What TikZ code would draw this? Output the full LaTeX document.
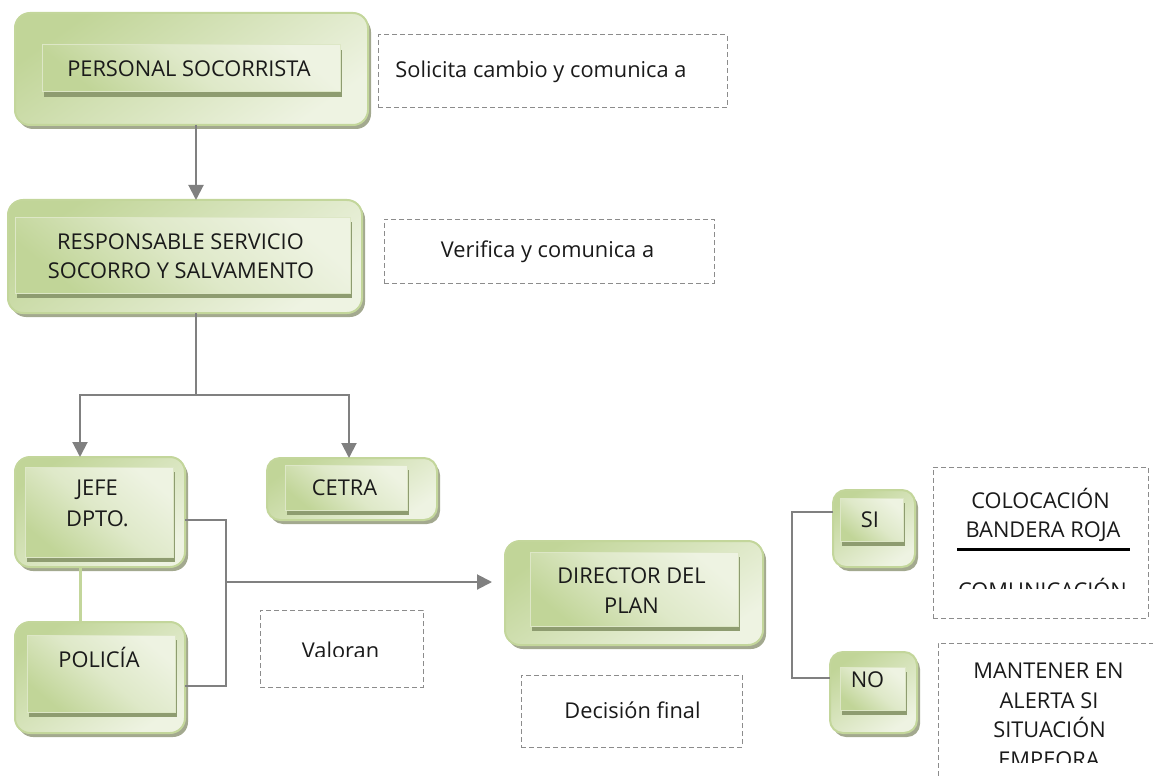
\documentclass[tikz,border=0pt]{standalone}
\usepackage{fontspec}
\setmainfont{Open Sans}
\usetikzlibrary{arrows.meta,shadows}
\definecolor{gborder}{HTML}{C3D69B}
\definecolor{gdark}{HTML}{C1D598}
\definecolor{glight}{HTML}{EEF3E2}
\definecolor{oshadow}{HTML}{A3A98F}
\definecolor{ishadow}{HTML}{8E9C70}
\definecolor{conncol}{HTML}{808080}
\definecolor{dashcol}{HTML}{8C8C8C}
\definecolor{txtcol}{HTML}{1A1A1A}
\tikzset{
  outerbox/.style={draw=gborder, line width=2pt, rounded corners=15pt,
    shading=axis, top color=gdark, bottom color=glight, middle color=glight!50!gdark, shading angle=35,
    drop shadow={shadow xshift=3pt, shadow yshift=-4pt, fill=oshadow, opacity=1},
    inner sep=0pt, outer sep=0pt},
  innerbox/.style={draw=glight!60!gborder, line width=1pt,
    shading=axis, top color=glight, bottom color=gdark, middle color=glight!65!gdark, shading angle=-40,
    drop shadow={shadow xshift=2pt, shadow yshift=-5pt, fill=ishadow, opacity=1},
    inner sep=0pt, outer sep=0pt},
  txt/.style={font=\fontsize{21.8}{29}\selectfont, text=txtcol, inner sep=0pt, anchor=base},
  dbox/.style={draw=dashcol, line width=1pt, dash pattern=on 5pt off 3pt, inner sep=0pt, outer sep=0pt},
  conn/.style={draw=conncol, line width=2pt},
  arr/.style={conn, -{Triangle[width=15pt,length=15pt]}},
  glink/.style={draw=gborder, line width=3pt},
}
\begin{document}
\begin{tikzpicture}[x=1pt,y=-1pt]
\useasboundingbox (0,0) rectangle (1153,778);
\clip (0,0) rectangle (1153,778);

% PERSONAL SOCORRISTA
\node[outerbox, minimum width=353pt, minimum height=112pt] (ps) at (191.5,69) {};
\node[innerbox, minimum width=298pt, minimum height=47pt] (psi) at (191,68.5) {};
\node[txt] (pst) at (189,77) {PERSONAL SOCORRISTA};

% RESPONSABLE
\node[outerbox, minimum width=354pt, minimum height=113pt] (rs) at (185,256.5) {};
\node[innerbox, minimum width=335pt, minimum height=76pt] (rsi) at (182.5,255) {};
\node[txt] (rst1) at (180.5,249) {RESPONSABLE SERVICIO};
\node[txt] (rst2) at (181,278) {SOCORRO Y SALVAMENTO};

% JEFE DPTO
\node[outerbox, minimum width=170pt, minimum height=110pt] (jefe) at (100,512) {};
\node[innerbox, minimum width=148pt, minimum height=90pt] (jefei) at (99,512) {};
\node[txt] (jefet1) at (97,495) {JEFE};
\node[txt] (jefet2) at (97.5,526) {DPTO.};

% POLICIA
\node[outerbox, minimum width=170pt, minimum height=111pt] (pol) at (100,677.5) {};
\node[innerbox, minimum width=148pt, minimum height=77pt] (poli) at (101,673.5) {};
\node[txt] (polt) at (99,667) {POLICÍA};

% CETRA
\node[outerbox, minimum width=170pt, minimum height=62pt, rounded corners=13pt] (cetra) at (352,489) {};
\node[innerbox, minimum width=122pt, minimum height=45pt] (cetrai) at (346,487.5) {};
\node[txt] (cetrat) at (344.5,495) {CETRA};

% DIRECTOR
\node[outerbox, minimum width=258pt, minimum height=104pt] (dir) at (634,593) {};
\node[innerbox, minimum width=208pt, minimum height=74pt] (diri) at (634,589) {};
\node[txt] (dirt1) at (631.5,583) {DIRECTOR DEL};
\node[txt] (dirt2) at (631.5,613) {PLAN};

% SI / NO
\node[outerbox, minimum width=82pt, minimum height=77pt, rounded corners=13pt] (si) at (874,528.5) {};
\node[innerbox, minimum width=63pt, minimum height=43pt] (sii) at (871.5,519.5) {};
\node[txt] (sit) at (870,527) {SI};
\node[outerbox, minimum width=87pt, minimum height=81pt, rounded corners=13pt] (no) at (873.5,692.5) {};
\node[innerbox, minimum width=65pt, minimum height=43pt] (noi) at (872.5,688.5) {};
\node[txt] (not) at (867.5,687) {NO};

% dashed text boxes
\node[dbox, minimum width=349pt, minimum height=73pt] (sol) at (552.5,71.5) {};
\node[txt] (solt) at (541,78) {Solicita cambio y comunica a};
\node[dbox, minimum width=330pt, minimum height=64pt] (ver) at (549,251) {};
\node[txt] (vert) at (547.5,257) {Verifica y comunica a};
\node[dbox, minimum width=163pt, minimum height=77pt] (val) at (341.5,648.5) {};
\begin{scope}
  \clip (262,612) rectangle (421,656.5);
  \node[txt] (valt) at (340.5,658) {Valoran};
\end{scope}
\node[dbox, minimum width=221pt, minimum height=72pt] (dec) at (631.5,711) {};
\node[txt] (dect) at (632.5,718) {Decisión final};

\node[dbox, minimum width=215pt, minimum height=151pt] (col) at (1040.5,542.5) {};
\node[txt] (colt1) at (1040.5,508) {COLOCACIÓN};
\node[txt] (colt2) at (1043,537) {BANDERA ROJA};
\draw[line width=3pt] (957,549) -- (1130,549);
\begin{scope}
  \clip (935,560) rectangle (1146,588.5);
  \node[txt] (colt3) at (1042.5,598) {COMUNICACIÓN};
\end{scope}

\node[dbox, minimum width=260pt, minimum height=200pt, anchor=north west] (man) at (938,643) {};
\node[txt] (mant1) at (1048.5,678) {MANTENER EN};
\node[txt] (mant2) at (1049,708) {ALERTA SI};
\node[txt] (mant3) at (1049.5,737) {SITUACIÓN};
\begin{scope}
  \clip (940,745) rectangle (1153,762.5);
  \node[txt] (mant4) at (1049,767) {EMPEORA};
\end{scope}

% connectors
\draw[arr] ([xshift=4.5pt]ps.south) -- ([xshift=4.5pt]ps.south |- rs.north);
\coordinate (split) at (196,395);
\draw[conn] (split |- rs.south) -- (split);
\draw[arr] (split) -| ([xshift=-20pt]jefe.north);
\draw[arr] (split) -| ([xshift=-3pt]cetra.north);
\draw[glink] ([xshift=-20pt]jefe.south) -- ([xshift=-20pt]jefe.south |- pol.north);
\coordinate (vj) at (226,582);
\draw[conn] (jefe.east |- 0,520) -| (vj) |- (pol.east |- 0,686);
\draw[arr, shorten >=13pt] (vj) -- (vj -| dir.west);
\coordinate (bt) at (792,512);
\coordinate (bb) at (792,678);
\draw[conn] (si.west |- bt) -- (bt) -- (bb) -- (no.west |- bb);
\end{tikzpicture}
\end{document}
